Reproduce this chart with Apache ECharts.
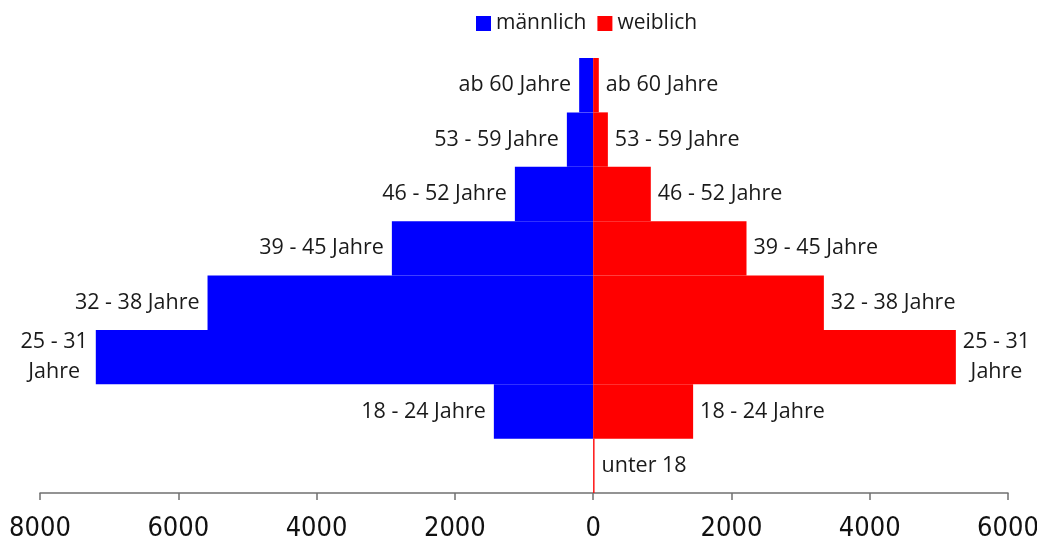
<!DOCTYPE html>
<html><head><meta charset="utf-8">
<script src="https://cdn.jsdelivr.net/npm/echarts@6/dist/echarts.min.js"></script>
<style>html,body{margin:0;padding:0;background:#fff}#c{width:1037px;height:543px}</style>
</head><body><div id="c"></div>
<script>
var categories = ['ab 60 Jahre','53 - 59 Jahre','46 - 52 Jahre','39 - 45 Jahre','32 - 38 Jahre','25 - 31 Jahre','18 - 24 Jahre','unter 18'];
var maleValues = [202, 380, 1132, 2911, 5577, 7193, 1436, 0];
var femaleValues = [82, 213, 834, 2218, 3337, 5246, 1446, 20];
var tickLabels = ['8000','6000','4000','2000','0','2000','4000','6000'];

var FONT = '"Open Sans", sans-serif';
function labelText(p){
  if (p.value === 0) return '';
  var n = p.name;
  if (n === '25 - 31 Jahre') return '{a|25 - 31}\n{a|Jahre}';
  return '{a|' + n + '}';
}
var rich = {a:{align:'center', fontSize:21.5, fontFamily:FONT, color:'#1a1a1a', lineHeight:30}};
var chart = echarts.init(document.getElementById('c'));
chart.setOption({
  animation:false,
  legend:{top:13, left:476, padding:0, itemWidth:15, itemHeight:15, itemGap:11,
    icon:'rect', textStyle:{fontSize:21, fontFamily:FONT, color:'#1a1a1a'},
    data:['männlich','weiblich']},
  grid:{left:40, right:29, top:58, bottom:50, containLabel:false, outerBoundsMode:'none'},
  xAxis:{type:'value', min:-8000, max:6000, interval:2000, position:'bottom',
    axisLine:{show:true, lineStyle:{color:'#707070', width:1.5}},
    axisTick:{show:true, length:7, inside:false, lineStyle:{color:'#707070', width:1.5}},
    splitLine:{show:false},
    axisLabel:{margin:22, fontSize:27, fontFamily:'"Liberation Sans Narrow", "DejaVu Sans Condensed", sans-serif', color:'#111',
      formatter:function(v){ var i = Math.round((v + 8000)/2000); return tickLabels[i]; }}},
  yAxis:{type:'category', data:categories, inverse:true,
    axisLine:{show:false}, axisTick:{show:false}, axisLabel:{show:false}, splitLine:{show:false}},
  series:[
    {name:'männlich', type:'bar', stack:'s', barCategoryGap:0, itemStyle:{color:'#0000ff'},
      data:maleValues.map(function(v){return -v;}),
      label:{show:true, position:'left', distance:8, formatter:function(p){ if(p.value===0) return ''; return labelText(p);}, rich:rich}},
    {name:'weiblich', type:'bar', stack:'s', barCategoryGap:0, itemStyle:{color:'#ff0000'},
      data:femaleValues,
      label:{show:true, position:'right', distance:7, formatter:labelText, rich:rich}}
  ]
});
</script></body></html>
